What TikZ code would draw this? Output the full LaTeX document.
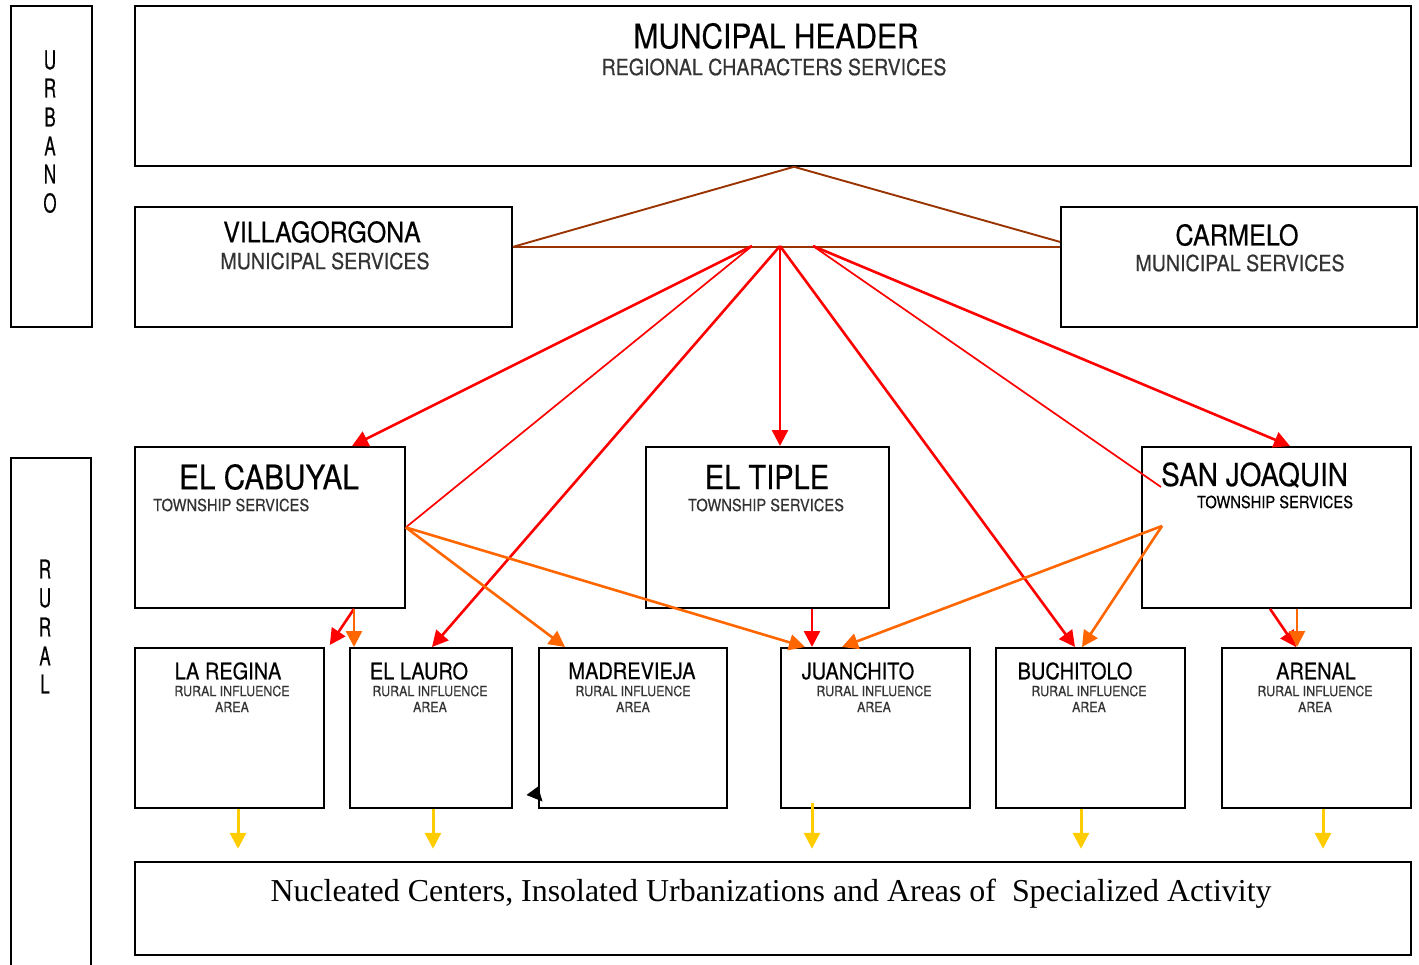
\documentclass[tikz,border=0pt]{standalone}
\usepackage{fontspec}
\setmainfont{TeX Gyre Heros}[FakeStretch=0.88, FakeBold=0.4]
\newfontfamily\timesf{Liberation Serif}
\usetikzlibrary{arrows.meta,calc}
\newcommand\fsz[1]{\fontsize{#1}{#1}\selectfont}
\definecolor{brn}{HTML}{993300}
\definecolor{org}{HTML}{FF6600}
\definecolor{yel}{HTML}{FFCC00}
\definecolor{gry}{HTML}{333333}
\tikzset{
  box/.style={draw, line width=1.8pt, rectangle, anchor=north west, inner sep=0pt, minimum width=#1},
  txt/.style={inner sep=0pt, anchor=center},
  tip/.style={-{Triangle[length=16pt,width=16pt]}},
  rthick/.style={draw=red, line width=2.6pt, tip},
  rthin/.style={draw=red, line width=1.7pt},
  oarr/.style={draw=org, line width=2.6pt, tip},
  brline/.style={draw=brn, line width=1.9pt},
  yarr/.style={draw=yel, line width=3pt, -{Triangle[length=16pt,width=16pt]}},
  title/.style={txt, font=\fsz{22.7}},
  sub/.style={txt, font=\fsz{14.1}, text=gry},
  vlet/.style={txt, font=\fsz{26}},
}
\newcommand\sq[1]{\scalebox{0.74}[1]{#1}}
\begin{document}
\begin{tikzpicture}[x=1pt,y=-1pt]
\useasboundingbox (0,0) rectangle (1419,964);
\clip (0,0) rectangle (1419,964);
% side panels
\node[box=81pt, minimum height=321pt] (urb) at (10,5) {};
\node[box=80pt, minimum height=540pt] (rur) at (10,457) {};
\foreach \l/\y [count=\i] in {U/60,R/88,B/117,A/146,N/174,O/203}
  \node[vlet] (u\i) at (50,\y) {\sq{\l}};
\foreach \l/\y [count=\i] in {R/569,U/598,R/627,A/656,L/684}
  \node[vlet] (r\i) at (45,\y) {\sq{\l}};
% boxes
\node[box=1276pt, minimum height=160pt] (hdr) at (134,5) {};
\node[box=377pt, minimum height=120pt] (vil) at (134,206) {};
\node[box=356pt, minimum height=120pt] (car) at (1060,206) {};
\node[box=270pt, minimum height=161pt] (cab) at (134,446) {};
\node[box=243pt, minimum height=161pt] (tip) at (645,446) {};
\node[box=269pt, minimum height=161pt] (sj) at (1141,446) {};
\node[box=189pt, minimum height=160pt] (reg) at (134,647) {};
\node[box=162pt, minimum height=160pt] (lau) at (349,647) {};
\node[box=188pt, minimum height=160pt] (mad) at (538,647) {};
\node[box=189pt, minimum height=160pt] (jua) at (780,647) {};
\node[box=189pt, minimum height=160pt] (buc) at (995,647) {};
\node[box=189pt, minimum height=160pt] (are) at (1221,647) {};
\node[box=1276pt, minimum height=93pt] (bot) at (134,861) {};
% texts
\node[txt, font=\fsz{34}] (t1) at (776,36) {MUNCIPAL HEADER};
\node[sub, font=\fsz{22.3}] (t2) at (774,67) {REGIONAL CHARACTERS SERVICES};
\node[txt, font=\fsz{28.4}] (t3) at (322,232) {VILLAGORGONA};
\node[sub, font=\fsz{22.3}] (t4) at (325,261) {MUNICIPAL SERVICES};
\node[txt, font=\fsz{28.7}] (t5) at (1237,235) {CARMELO};
\node[sub, font=\fsz{22.3}] (t6) at (1240,263) {MUNICIPAL SERVICES};
\node[txt, font=\fsz{33.8}] (t7) at (269,477) {EL CABUYAL};
\node[sub, font=\fsz{16.7}, anchor=west] (t8) at (153,505) {TOWNSHIP SERVICES};
\node[txt, font=\fsz{33}] (t9) at (767,477) {EL TIPLE};
\node[sub, font=\fsz{16.7}] (t10) at (766,505) {TOWNSHIP SERVICES};
\node[txt, font=\fsz{31.7}, anchor=west] (t11) at (1161,475) {SAN JOAQUIN};
\node[sub, font=\fsz{16.7}, text=black] (t12) at (1275,502) {TOWNSHIP SERVICES};
\foreach \n/\tx/\sx/\name in {reg/228/232/LA REGINA, lau/419/430/EL LAURO, mad/632/633/MADREVIEJA, jua/858/874/JUANCHITO, buc/1075/1089/BUCHITOLO, are/1316/1315/ARENAL}{
  \node[title] (\n-t) at (\tx,671) {\name};
  \node[sub] (\n-s1) at (\sx,691) {RURAL INFLUENCE};
  \node[sub] (\n-s2) at (\sx,707) {AREA};
}
\node[inner sep=0pt, anchor=base, font=\timesf\fsz{31.9}] (bt) at (771,901) {Nucleated Centers, Insolated Urbanizations and Areas of\ \ Specialized Activity};
% brown frame lines
\coordinate (apex) at ([xshift=660pt]hdr.south west);
\draw[brline] ([yshift=20pt]vil.east) -- (apex) -- ([yshift=25pt]car.west);
\draw[brline] ([yshift=20pt]vil.east) -- ([yshift=20pt]car.west);
\coordinate (h1) at (752,246);
\coordinate (h2) at (780,246);
\coordinate (h3) at (813,246);
% red lines from hub
\draw[rthick] (h1) -- ([xshift=218pt]cab.north west);
\draw[rthin] (h1) -- (cab.east);
\draw[rthick] (h2) -- ([xshift=83pt]lau.north west);
\draw[rthick] (h2) -- ([xshift=135pt]tip.north west);
\draw[rthick] (h2) -- ([xshift=80pt]buc.north west);
\draw[rthin] (h3) -- ([xshift=20pt,yshift=-41pt]sj.north west);
\draw[rthick] (h3) -- ([xshift=149pt]sj.north west);
% orange from El Cabuyal
\draw[oarr] (cab.east) -- ([xshift=27pt]mad.north west);
\draw[oarr] (cab.east) -- ([xshift=25pt]jua.north west);
% cabuyal bottom
\coordinate (cb) at ([xshift=220pt]cab.south west);
\draw[rthick] (cb) -- ([xshift=5pt,yshift=2pt]reg.north east);
\draw[oarr] (cb) -- ([xshift=5pt]lau.north west);
% tiple bottom
\draw[rthick] ([xshift=167pt]tip.south west) -- ([xshift=32pt]jua.north west);
% san joaquin
\coordinate (sjp) at ([xshift=21pt,yshift=-80pt]sj.north west);
\draw[oarr] (sjp) -- ([xshift=62pt]jua.north west);
\draw[oarr] (sjp) -- ([xshift=87pt]buc.north west);
\draw[rthick] ([xshift=129pt]sj.south west) -- ([xshift=75pt]are.north west);
\draw[oarr] ([xshift=156pt]sj.south west) -- ([xshift=76pt]are.north west);
% yellow arrows
\draw[yarr] ([xshift=104pt]reg.south west) -- ++(0,40);
\draw[yarr] ([xshift=84pt]lau.south west) -- ++(0,40);
\draw[yarr] ([xshift=32pt,yshift=6pt]jua.south west) -- ++(0,46);
\draw[yarr] ([xshift=86pt]buc.south west) -- ++(0,40);
\draw[yarr] ([xshift=102pt]are.south west) -- ++(0,40);
% stray black arrowhead
\fill (538,786.5) -- (526.5,795) -- (542.5,801.5) -- cycle;
\end{tikzpicture}
\end{document}
